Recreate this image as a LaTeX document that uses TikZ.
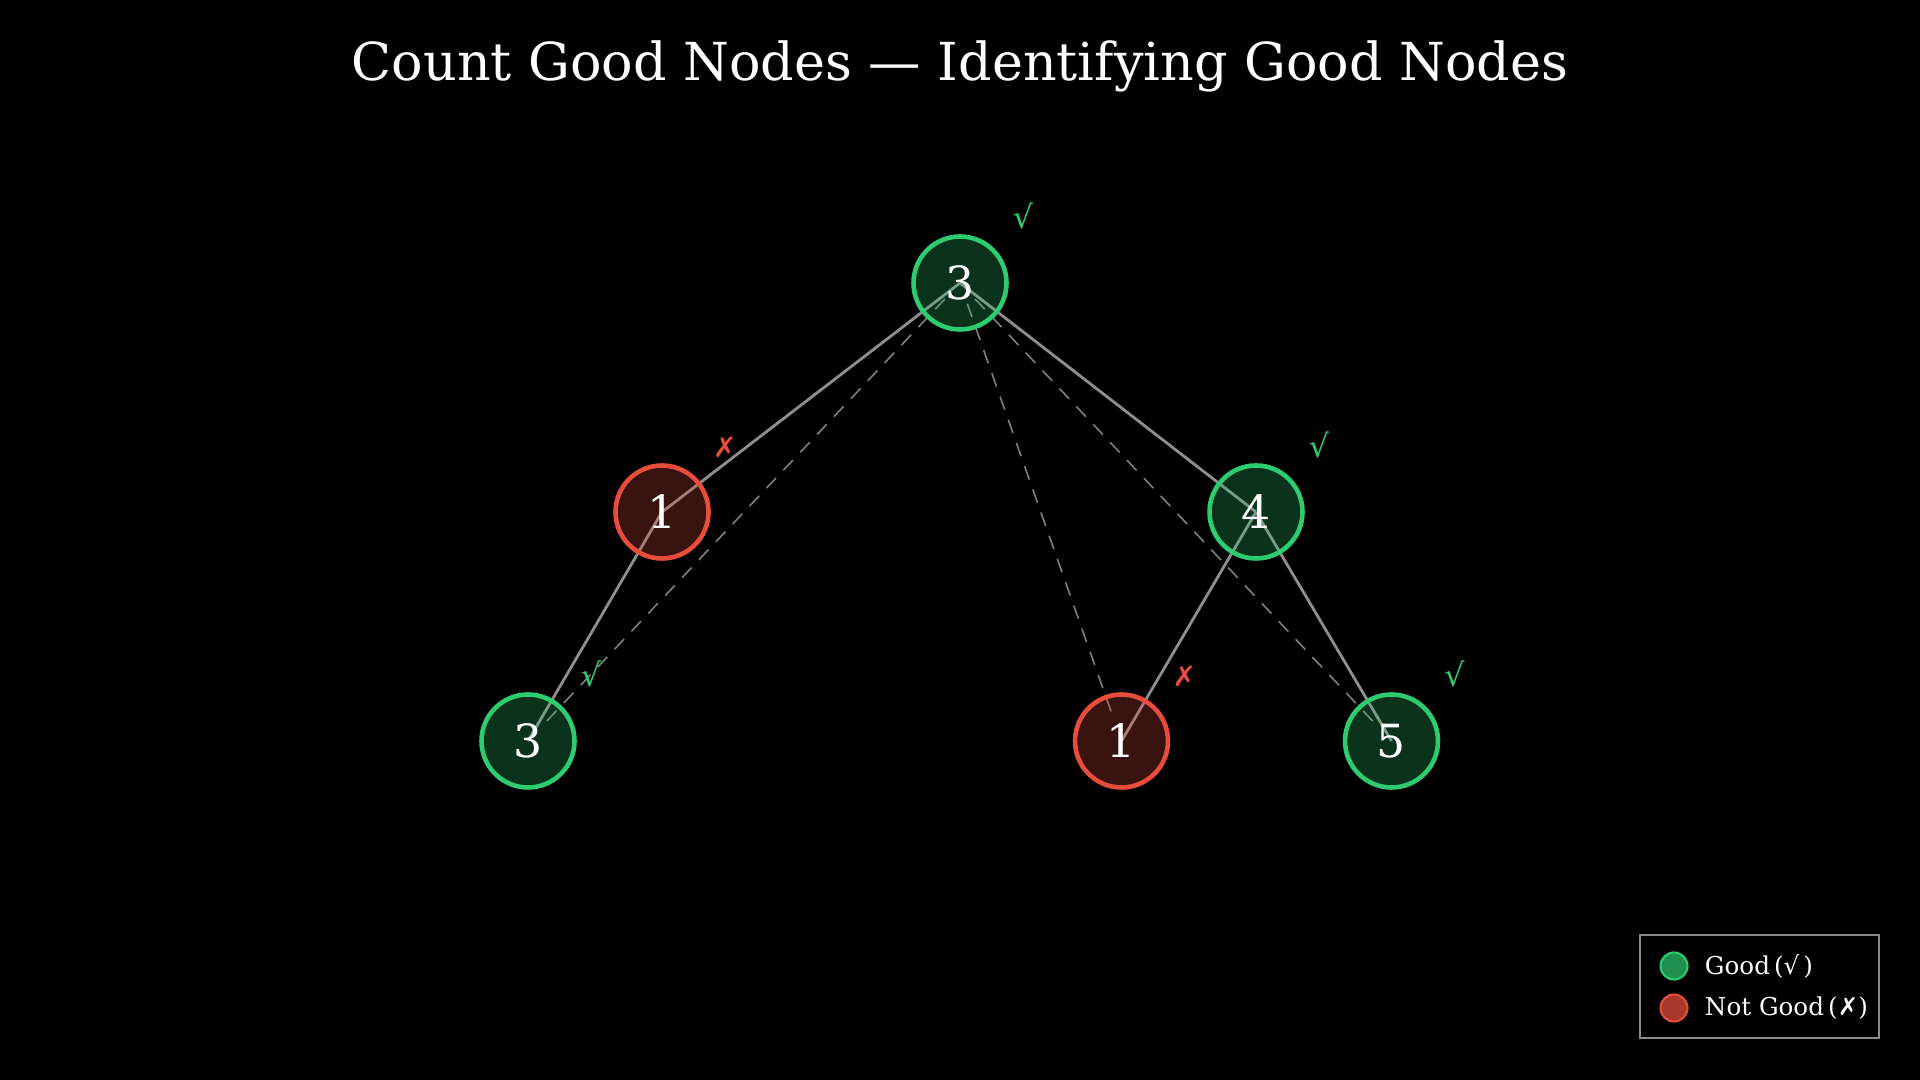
\documentclass[tikz,border=0pt]{standalone}
\usepackage{fontspec}
\setmainfont{DejaVu Serif}
\newfontfamily\symfont{DejaVu Sans}
\usetikzlibrary{backgrounds}
\definecolor{cgood}{HTML}{2ECC71}
\definecolor{cbad}{HTML}{E74C3C}
\definecolor{cedge}{HTML}{8E8E8E}
\definecolor{cdash}{HTML}{808080}
\definecolor{cgrey}{HTML}{8A8A8A}
\tikzset{
  every picture/.style={line width=0.8pt},
  tnode/.style={circle, draw=#1, fill=#1, fill opacity=0.25, text opacity=1, line width=1.3pt,
    minimum size=0.93cm, inner sep=0pt, text=white, font=\fontsize{13}{15}\selectfont},
  good/.style={tnode=cgood},
  bad/.style={tnode=cbad},
  edge/.style={draw=cedge, line width=0.8pt},
  pathline/.style={draw=cdash, line width=0.45pt, dash pattern=on 4pt off 3pt,
    shorten <=0.22cm, shorten >=0.22cm},
  goodtick/.style={text=cgood, font=\fontsize{9}{10}\selectfont},
  badtick/.style={text=cbad, font=\symfont\fontsize{8}{10}\selectfont},
  title/.style={font=\fontsize{14.9}{18}\selectfont, text=white},
  legtext/.style={font=\fontsize{7}{9}\selectfont, text=white, anchor=west, inner sep=0pt},
}

\begin{document}
\begin{tikzpicture}
  \useasboundingbox (0,0) rectangle (19.2,10.8);
  \node[title] (title) at (9.6,10.14) {Count Good Nodes — Identifying Good Nodes};

  % tree
  \node[good] (root) at (9.60,7.97) {3};
  \node[bad]  (l)    at (6.62,5.68) {1};
  \node[good] (r)    at (12.56,5.68) {4};
  \node[good] (ll)   at (5.28,3.39) {3};
  \node[bad]  (rl)   at (11.215,3.39) {1};
  \node[good] (rr)   at (13.915,3.39) {5};

  % ticks
  \node[goodtick] (troot) at ([shift={(0.63,0.67)}]root.center) {√};
  \node[badtick]  (tl)    at ([shift={(0.63,0.65)}]l.center) {✗};
  \node[goodtick] (tr)    at ([shift={(0.63,0.67)}]r.center) {√};
  \node[goodtick] (tll)   at ([shift={(0.63,0.67)}]ll.center) {√};
  \node[badtick]  (trl)   at ([shift={(0.63,0.65)}]rl.center) {✗};
  \node[goodtick] (trr)   at ([shift={(0.63,0.67)}]rr.center) {√};

  \begin{scope}[on background layer]
    \fill[black] (0,0) rectangle (19.2,10.8);
    \draw[edge] (root.center) -- (l.center);
    \draw[edge] (root.center) -- (r.center);
    \draw[edge] (l.center) -- (ll.center);
    \draw[edge] (r.center) -- (rl.center);
    \draw[edge] (r.center) -- (rr.center);
    \draw[pathline] (root.center) -- (ll.center);
    \draw[pathline] (root.center) -- (rl.center);
    \draw[pathline] (root.center) -- (rr.center);
  \end{scope}

  % legend
  \node[draw=cgrey, line width=0.6pt, minimum width=2.39cm, minimum height=1.03cm] (legend) at (17.595,0.935) {};
  \node[circle, draw=cgood, fill=cgood!70!black, line width=0.6pt, minimum size=0.27cm, inner sep=0pt] (kgood) at (16.74,1.14) {};
  \node[circle, draw=cbad, fill=cbad!72!black, line width=0.6pt, minimum size=0.27cm, inner sep=0pt] (kbad) at (16.74,0.72) {};
  \node[legtext] (lgood) at ([xshift=0.15cm]kgood.east) {Good\,(√\,)};
  \node[legtext] (lbad) at ([xshift=0.15cm]kbad.east) {Not Good\,({\symfont ✗})};
\end{tikzpicture}
\end{document}
